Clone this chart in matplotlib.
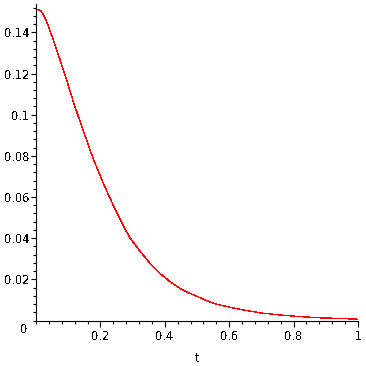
import matplotlib
matplotlib.use("Agg")
import matplotlib.pyplot as plt
from matplotlib.ticker import MultipleLocator

# values
t = [0.0, 0.008, 0.015, 0.022, 0.027, 0.033, 0.040, 0.054, 0.075, 0.095,
     0.116, 0.137, 0.157, 0.176, 0.188, 0.209, 0.230, 0.251, 0.271, 0.292,
     0.323, 0.354, 0.385, 0.416, 0.447, 0.478, 0.514, 0.540, 0.571,
     0.634, 0.696, 0.758, 0.820, 0.882, 0.944, 1.0]
v = [0.1511, 0.1510, 0.1505, 0.1490, 0.1474, 0.1452, 0.1422, 0.1363, 0.1266, 0.1169,
     0.1063, 0.0966, 0.0877, 0.0793, 0.0747, 0.0667, 0.0594, 0.0523, 0.0460, 0.0402,
     0.0337, 0.0278, 0.0229, 0.0189, 0.0156, 0.0132, 0.0108, 0.0090, 0.0075,
     0.0054, 0.0037, 0.0027, 0.0019, 0.0013, 0.0010, 0.0006]

xticks = [0.2, 0.4, 0.6, 0.8, 1.0]
xticklabels = ["0.2", "0.4", "0.6", "0.8", "1"]
yticks = [0.02, 0.04, 0.06, 0.08, 0.10, 0.12, 0.14]
yticklabels = ["0.02", "0.04", "0.06", "0.08", "0.1", "0.12", "0.14"]

plt.rc("font", family="DejaVu Sans", size=8.3)
plt.rcParams["text.antialiased"] = False

fig = plt.figure(figsize=(3.66, 3.66), dpi=100)
ax = fig.add_axes([36 / 366, (366 - 320.5) / 366, 322 / 366, 316.5 / 366])

ax.plot(t, v, color="red", linewidth=0.25, antialiased=False)

ax.set_xlim(0, 1)
ax.set_ylim(0, 0.1538)

for s in ["top", "right"]:
    ax.spines[s].set_visible(False)
for s in ["left", "bottom"]:
    ax.spines[s].set_linewidth(0.8)

ax.set_xticks(xticks)
ax.set_xticklabels(xticklabels)
ax.set_yticks(yticks)
ax.set_yticklabels(yticklabels)
ax.xaxis.set_minor_locator(MultipleLocator(0.04))
ax.yaxis.set_minor_locator(MultipleLocator(0.004))

ax.tick_params(axis="x", which="major", direction="out", length=4.2, width=0.8, pad=3)
ax.tick_params(axis="x", which="minor", direction="out", length=2.2, width=0.8)
ax.tick_params(axis="y", which="major", direction="out", length=3.8, width=0.8, pad=0.8)
ax.tick_params(axis="y", which="minor", direction="out", length=2.2, width=0.8)

# Maple puts the origin label a little below the axis
ax.annotate("0", xy=(0, 0), xytext=(-5.8, -1.8), textcoords="offset points",
            ha="right", va="top")

ax.set_xlabel("t", labelpad=6)

fig.savefig("out.png", dpi=100)
